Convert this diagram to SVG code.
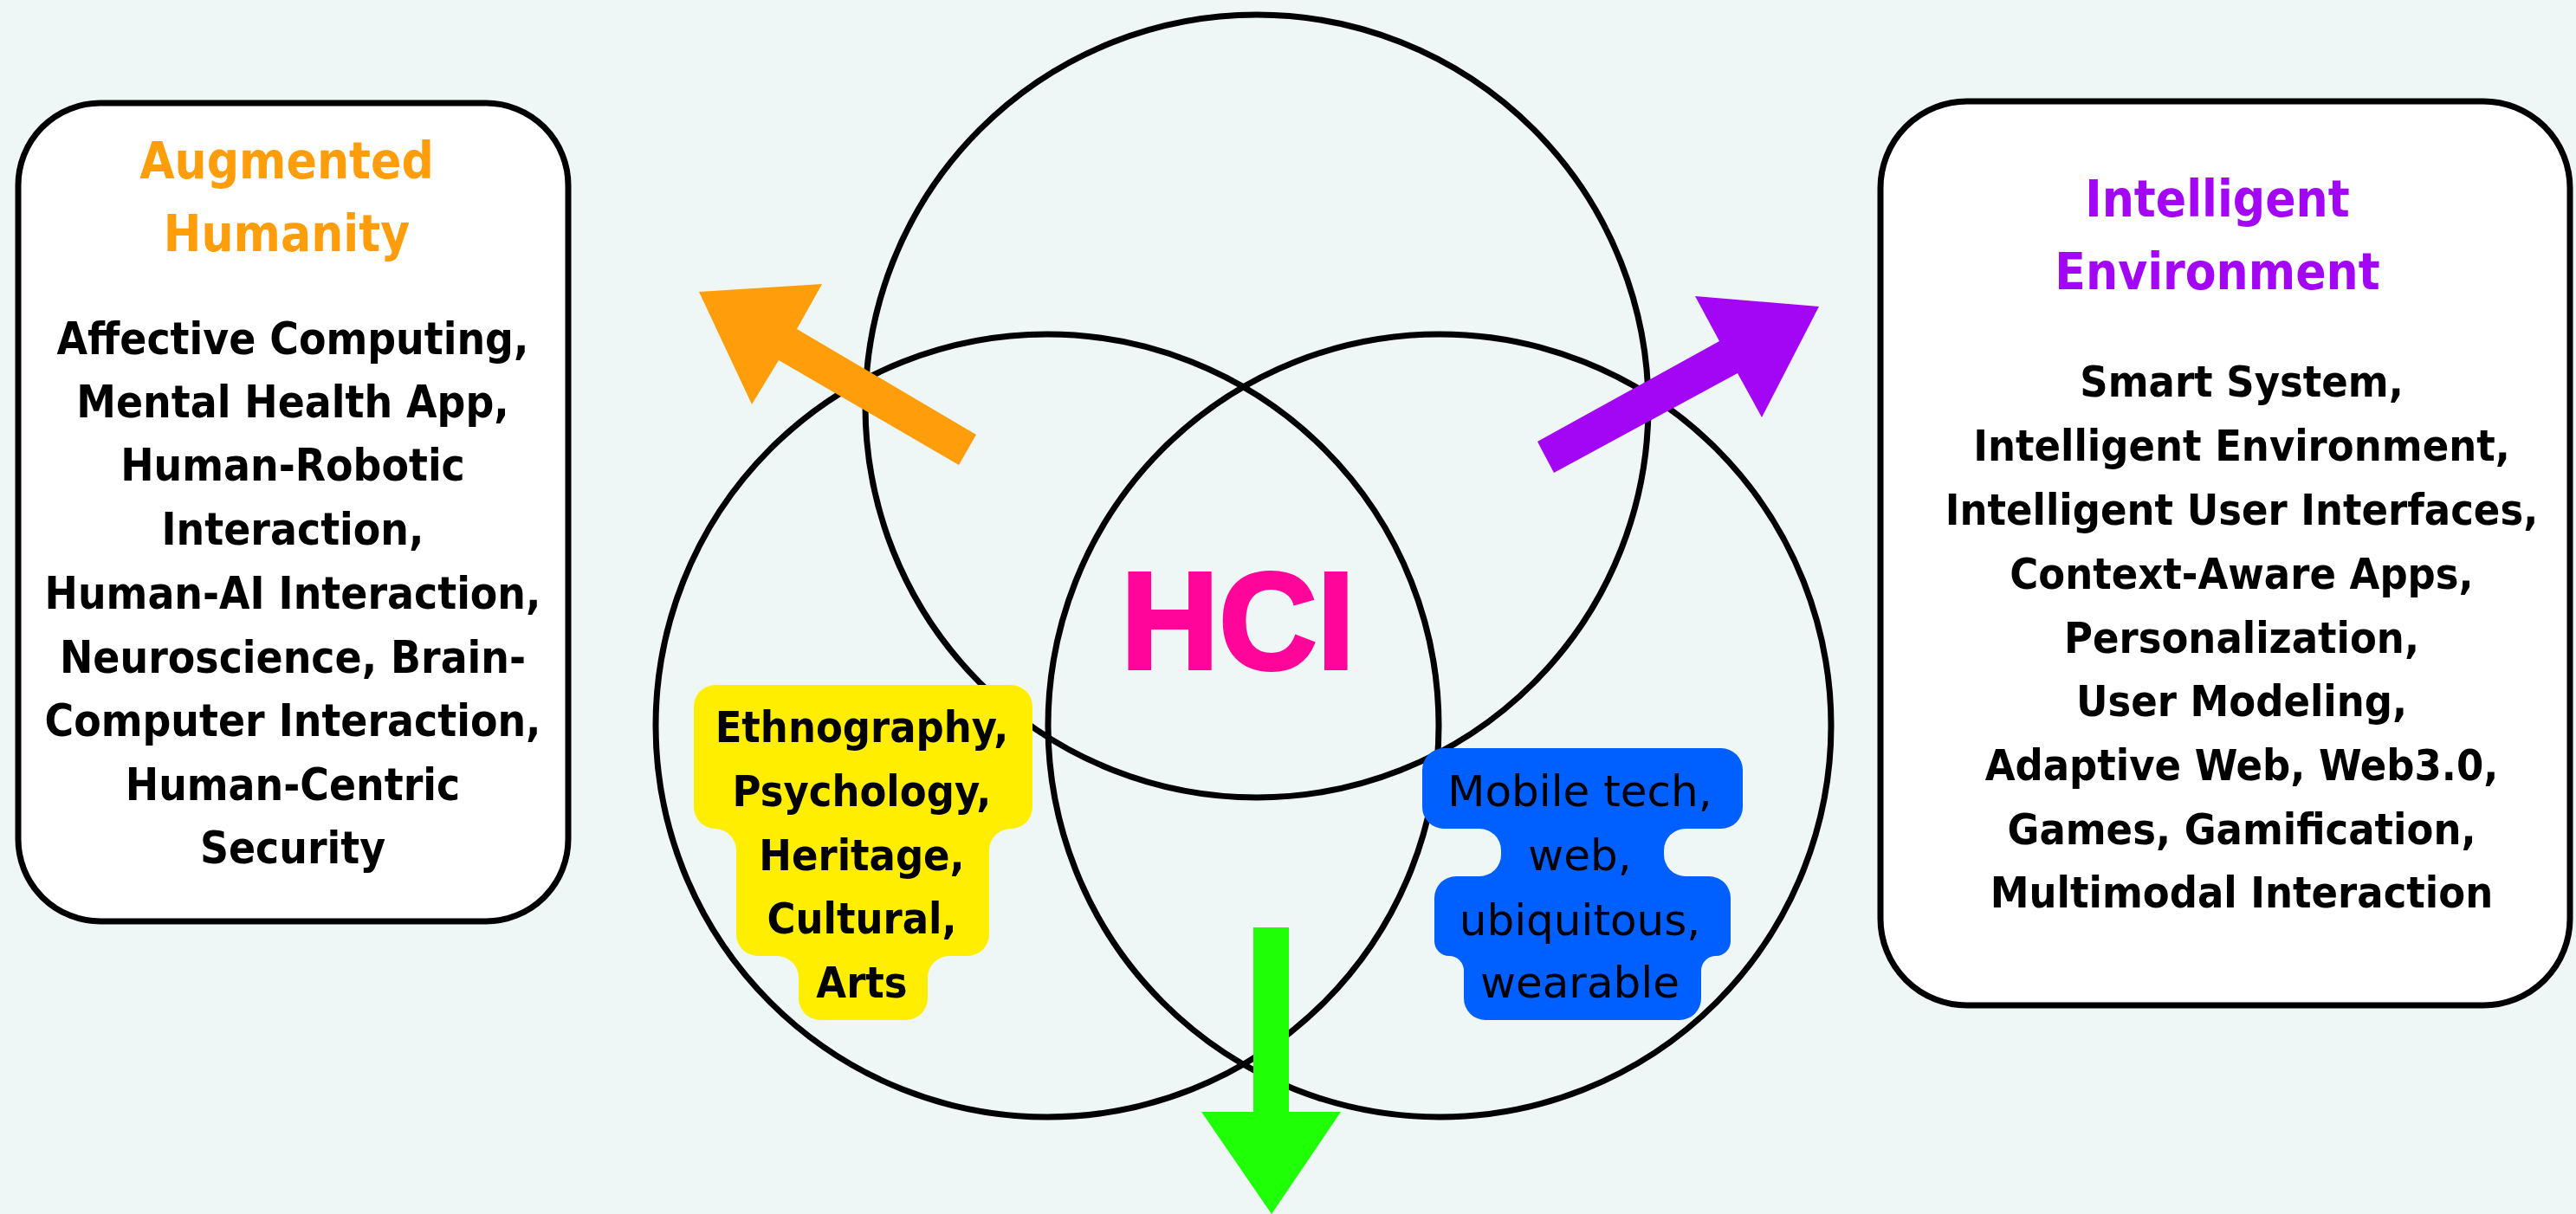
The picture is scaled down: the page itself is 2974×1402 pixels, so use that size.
<svg xmlns="http://www.w3.org/2000/svg" width="2974" height="1402" viewBox="0 0 2974 1402">
<style>
.bg{fill:#EEF7F5}
.ring{fill:none;stroke:#000;stroke-width:7}
.card{fill:#fff;stroke:#000;stroke-width:7}
.b{font-family:"DejaVu Sans Condensed","DejaVu Sans",sans-serif;font-stretch:condensed;font-weight:bold;text-anchor:middle;fill:#000}
.body{font-size:51px}
.title{font-size:58px}
.reg{font-family:"DejaVu Sans",sans-serif;font-size:50px;text-anchor:middle;fill:#000}
</style>
<rect class="bg" x="0" y="0" width="2974" height="1402"/>
<g id="venn">
<circle id="circle-top" class="ring" cx="1451" cy="469" r="452"/>
<circle id="circle-left" class="ring" cx="1209" cy="838" r="452"/>
<circle id="circle-right" class="ring" cx="1662" cy="838" r="452"/>
</g>
<g id="augmented-humanity">
<rect class="card" x="21" y="119" width="635" height="945" rx="95" ry="95"/>
<text class="b title" style="fill:#FF9D0A" x="331" y="206">Augmented</text>
<text class="b title" style="fill:#FF9D0A" x="331" y="290">Humanity</text>
<text class="b body" x="338" y="409">Affective Computing,</text>
<text class="b body" x="338" y="482">Mental Health App,</text>
<text class="b body" x="338" y="555">Human-Robotic</text>
<text class="b body" x="338" y="629">Interaction,</text>
<text class="b body" x="338" y="703">Human-AI Interaction,</text>
<text class="b body" x="338" y="777">Neuroscience, Brain-</text>
<text class="b body" x="338" y="850">Computer Interaction,</text>
<text class="b body" x="338" y="924">Human-Centric</text>
<text class="b body" x="338" y="997">Security</text>
</g>
<g id="intelligent-environment">
<rect class="card" x="2171" y="117" width="796" height="1044" rx="100" ry="100"/>
<text class="b title" style="fill:#A305F5" x="2560" y="250">Intelligent</text>
<text class="b title" style="fill:#A305F5" x="2560" y="334">Environment</text>
<text class="b body" style="font-size:50px" x="2588" y="458">Smart System,</text>
<text class="b body" style="font-size:50px" x="2588" y="532">Intelligent Environment,</text>
<text class="b body" style="font-size:50px" x="2588" y="606">Intelligent User Interfaces,</text>
<text class="b body" style="font-size:50px" x="2588" y="680">Context-Aware Apps,</text>
<text class="b body" style="font-size:50px" x="2588" y="754">Personalization,</text>
<text class="b body" style="font-size:50px" x="2588" y="827">User Modeling,</text>
<text class="b body" style="font-size:50px" x="2588" y="901">Adaptive Web, Web3.0,</text>
<text class="b body" style="font-size:50px" x="2588" y="975">Games, Gamification,</text>
<text class="b body" style="font-size:50px" x="2588" y="1048">Multimodal Interaction</text>
</g>
<g id="connectors">
<polygon id="arrow-orange" fill="#FF9D0A" points="807,337 949,328 920,380 1127,502 1107,537 899,416 868,467"/>
<polygon id="arrow-purple" fill="#A305F5" points="1794,546 1775,510 1985,394 1957,342 2100,354 2034,482 2006,431"/>
<polygon id="arrow-green" fill="#1FFF05" points="1447,1071 1488,1071 1488,1284 1548,1284 1468,1402 1387,1284 1447,1284"/>
</g>
<g id="social-sciences">
<path fill="#FFEE00" d="M826,791 H1167 A25,25 0 0 1 1192,816 V932 A25,25 0 0 1 1167,957 A25,25 0 0 0 1142,982 V1079 A25,25 0 0 1 1117,1104 H1096 A25,25 0 0 0 1071,1129 V1153 A25,25 0 0 1 1046,1178 H947 A25,25 0 0 1 922,1153 V1129 A25,25 0 0 0 897,1104 H875 A25,25 0 0 1 850,1079 V982 A25,25 0 0 0 826,957 A25,25 0 0 1 801,932 V816 A25,25 0 0 1 826,791 Z"/>
<text class="b" style="font-size:50px" x="995" y="857">Ethnography,</text>
<text class="b" style="font-size:50px" x="995" y="931">Psychology,</text>
<text class="b" style="font-size:50px" x="995" y="1005">Heritage,</text>
<text class="b" style="font-size:50px" x="995" y="1078">Cultural,</text>
<text class="b" style="font-size:50px" x="995" y="1152">Arts</text>
</g>
<g id="technologies">
<path fill="#005FFF" d="M1667,864 H1987 A25,25 0 0 1 2012,889 V932 A25,25 0 0 1 1987,957 H1946 A25,25 0 0 0 1921,982 V987 A25,25 0 0 0 1946,1012 H1973 A25,25 0 0 1 1998,1037 V1087 A17,17 0 0 1 1981,1104 A17,17 0 0 0 1964,1121 V1153 A25,25 0 0 1 1939,1178 H1715 A25,25 0 0 1 1690,1153 V1121 A17,17 0 0 0 1673,1104 A17,17 0 0 1 1656,1087 V1037 A25,25 0 0 1 1681,1012 H1708 A25,25 0 0 0 1733,987 V982 A25,25 0 0 0 1708,957 H1667 A25,25 0 0 1 1642,932 V889 A25,25 0 0 1 1667,864 Z"/>
<text class="reg" x="1824" y="931">Mobile tech,</text>
<text class="reg" x="1824" y="1005">web,</text>
<text class="reg" x="1824" y="1080">ubiquitous,</text>
<text class="reg" x="1824" y="1152">wearable</text>
</g>
<g id="hci">
<text x="1429" y="772" font-family="'Liberation Sans',Arial,sans-serif" font-weight="bold" font-size="159" text-anchor="middle" fill="#FF0599" stroke="#FF0599" stroke-width="4" textLength="270" lengthAdjust="spacingAndGlyphs">HCI</text>
</g>
</svg>
